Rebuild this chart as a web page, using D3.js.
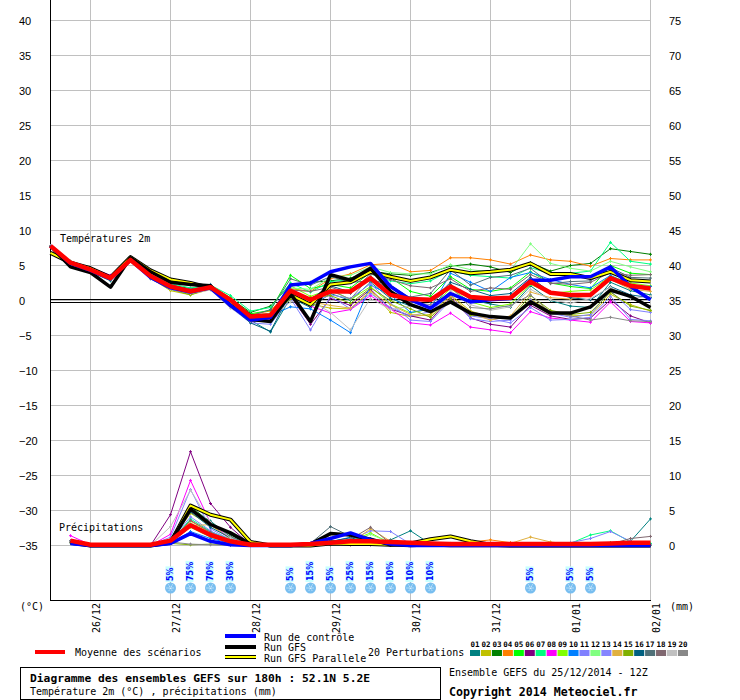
<!DOCTYPE html>
<html>
<head>
<meta charset="utf-8">
<script src="https://cdn.jsdelivr.net/npm/d3@7"></script>
<style>
  body { margin: 0; background: #fff; }
  svg { display: block; }
  .mono { font-family: "DejaVu Sans Mono", monospace; font-size: 10px; }
</style>
</head>
<body>
<div id="chart"></div>
<script>
// time steps (hours since 25/12/2014 12Z)
const hours = [0, 6, 12, 18, 24, 30, 36, 42, 48, 54, 60, 66, 72, 78, 84, 90, 96, 102, 108, 114, 120, 126, 132, 138, 144, 150, 156, 162, 168, 174, 180];
const precipHours = hours.slice(1);

const dateHours = [12, 36, 60, 84, 108, 132, 156, 180];
const dateLabels = ["26/12", "27/12", "28/12", "29/12", "30/12", "31/12", "01/01", "02/01"];
const tempTicks = [-35, -30, -25, -20, -15, -10, -5, 0, 5, 10, 15, 20, 25, 30, 35, 40];
const mmTicks = [0, 5, 10, 15, 20, 25, 30, 35, 40, 45, 50, 55, 60, 65, 70, 75];

const pertNames = ["01", "02", "03", "04", "05", "06", "07", "08", "09", "10", "11", "12", "13", "14", "15", "16", "17", "18", "19", "20"];
const pertColors = ["#008080", "#c0c000", "#008000", "#ff8000", "#00ff00", "#800080", "#00ff80", "#ff00ff", "#80ff00", "#0080ff",
  "#8080ff", "#80ff80", "#8585ff", "#e0b040", "#80b000", "#006080", "#507078", "#806870", "#c0c0c0", "#888888"];

// temperatures 2m (°C)
const tMean = [7.8, 5.4, 4.4, 3.2, 5.8, 3.5, 2.0, 1.3, 1.9, 0.1, -2.3, -2.1, 1.4, 0.1, 1.3, 1.3, 3.2, 0.8, 0.2, 0.1, 2.0, 0.5, 0.3, 0.4, 2.7, 1.1, 0.8, 0.8, 3.2, 2.1, 1.7];
const tControl = [7.8, 5.3, 4.3, 3.1, 5.8, 3.3, 1.8, 1.2, 1.8, -0.7, -2.8, -2.4, 2.2, 2.5, 4.1, 4.8, 5.3, 2.0, 0.1, -1.1, 1.0, -0.2, 0.1, 0.3, 2.9, 2.9, 3.4, 3.4, 4.8, 2.0, 0.1];
const tGfs = [7.8, 4.8, 4.0, 1.9, 6.1, 4.1, 2.6, 2.3, 2.1, -0.7, -2.7, -3.0, 1.0, -3.0, 3.7, 2.9, 4.6, 1.3, -0.6, -1.6, -0.2, -1.8, -2.3, -2.5, -0.2, -1.8, -1.8, -0.9, 1.5, 0.6, -1.0];
const tPara = [6.8, 5.4, 4.6, 3.3, 6.2, 4.3, 3.0, 2.5, 1.8, -0.2, -2.2, -2.2, 0.8, -0.6, 2.3, 2.6, 4.1, 3.4, 2.8, 3.3, 4.4, 3.9, 4.1, 4.4, 5.3, 3.8, 3.8, 3.2, 4.1, 2.9, 2.7];
const tPert = [
  [7.8, 5.2, 4.1, 2.8, 5.9, 3.1, 1.7, 0.9, 2.3, -0.2, -2.8, -4.5, 0.4, -1.0, 1.0, 0.0, 2.6, 0.3, -0.8, -1.4, 2.3, 0.1, -0.5, -1.0, 2.1, 0.0, -0.8, -1.0, 2.6, 1.4, 0.8],
  [7.8, 5.3, 4.3, 3.0, 5.6, 3.2, 1.4, 0.8, 1.6, -0.8, -2.6, -2.4, 0.7, -0.5, -1.1, -1.2, 1.4, -1.7, -2.3, -2.0, 0.8, -1.5, -2.4, -2.6, 0.2, -1.6, -2.2, -2.1, 0.9, -0.6, -1.5],
  [7.8, 5.4, 4.5, 3.2, 5.9, 3.6, 2.2, 1.7, 2.0, 0.3, -1.7, -0.8, 2.3, 2.6, 2.8, 3.2, 4.2, 3.8, 3.6, 4.0, 4.9, 5.2, 4.8, 4.0, 5.4, 4.2, 5.0, 5.3, 7.4, 7.0, 6.6],
  [7.8, 5.5, 4.5, 3.3, 5.7, 3.4, 1.9, 1.4, 1.7, 0.0, -2.0, -1.5, 1.7, 1.3, 3.1, 3.8, 5.1, 5.3, 4.1, 4.3, 6.1, 6.1, 5.8, 5.2, 6.5, 5.8, 5.6, 4.9, 6.0, 5.8, 5.8],
  [7.8, 5.3, 4.2, 3.1, 5.8, 3.4, 2.0, 1.2, 2.1, 0.4, -1.9, -1.4, 3.6, 1.7, 2.3, 1.8, 4.0, 3.3, 1.3, 0.6, 3.4, 1.6, 1.3, 1.8, 4.1, 2.5, 2.0, 1.7, 5.0, 3.9, 3.7],
  [7.8, 5.3, 4.4, 3.4, 5.7, 3.6, 2.1, 1.6, 1.8, -0.4, -2.7, -2.8, 0.6, -3.4, 0.3, -0.7, 1.6, -1.2, -2.2, -2.8, 0.4, -2.5, -3.4, -3.8, -0.7, -2.2, -2.7, -2.5, 0.1, -2.2, -3.2],
  [7.8, 5.6, 4.7, 3.5, 6.0, 3.7, 2.4, 1.8, 2.2, 0.7, -1.5, -1.0, 2.5, 1.2, 2.7, 3.0, 3.8, 2.8, 2.4, 2.8, 4.3, 3.6, 3.4, 3.2, 4.7, 3.8, 3.9, 4.2, 8.3, 5.6, 5.2],
  [7.8, 5.5, 4.7, 3.6, 5.9, 3.7, 2.0, 1.5, 2.2, -0.6, -3.1, -2.7, 0.8, -0.8, -1.8, -1.3, 0.7, -1.2, -3.2, -3.5, -1.8, -3.8, -4.2, -4.6, -1.6, -2.5, -2.8, -3.1, -0.2, -3.0, -3.2],
  [7.8, 5.4, 4.3, 3.3, 5.8, 3.3, 1.8, 1.1, 1.8, -0.1, -2.4, -1.9, 2.1, 0.6, 1.6, 0.1, 2.0, -0.5, -1.8, -1.2, 1.7, -0.2, -1.0, -0.5, 2.3, 1.0, 1.3, 1.5, 3.5, 2.5, 2.1],
  [7.8, 5.2, 4.2, 3.0, 5.7, 3.3, 1.6, 1.0, 1.9, -0.5, -2.5, -2.2, -0.9, -1.2, -2.8, -4.6, 2.2, 0.8, -1.7, -1.2, 3.9, 2.6, 1.3, 3.3, 4.0, 3.0, 2.3, 1.8, 3.6, 2.2, 2.0],
  [7.8, 5.4, 4.4, 3.1, 5.8, 3.2, 1.7, 1.2, 1.8, -1.0, -3.2, -3.4, 0.3, -4.2, 0.6, -1.2, 1.0, -1.0, -2.2, -1.6, 0.8, -2.6, -3.0, -2.8, 0.1, -1.8, -2.4, -2.0, 1.4, -1.3, -1.7],
  [7.8, 5.4, 4.5, 3.3, 5.9, 3.5, 2.1, 1.3, 2.0, 0.1, -2.1, -1.8, 1.8, 1.6, 3.3, 3.6, 4.8, 4.0, 3.8, 3.8, 5.1, 4.4, 4.1, 4.3, 8.1, 5.3, 4.6, 4.2, 5.6, 4.8, 4.1],
  [7.8, 5.3, 4.3, 3.2, 5.6, 3.4, 1.9, 1.4, 1.7, -0.7, -2.9, -2.6, 1.0, -0.4, 0.8, 0.3, 2.4, -0.4, -2.8, -3.0, 0.0, -2.2, -2.6, -3.2, -1.0, -2.8, -2.7, -2.4, 0.6, -2.7, -2.9],
  [7.8, 5.5, 4.6, 3.4, 5.9, 3.5, 1.8, 1.3, 2.0, 0.2, -2.2, -2.0, 1.2, -0.2, -0.7, -1.1, 1.3, -0.6, -2.0, -2.2, 0.6, -1.8, -2.8, -2.2, 1.2, 0.4, 0.2, 0.8, 3.0, 1.6, 1.3],
  [7.8, 5.4, 4.3, 3.0, 5.7, 3.2, 1.6, 0.8, 1.8, -0.3, -2.6, -2.3, 0.2, 0.4, 0.7, -0.4, 1.8, 0.0, -1.2, -2.4, 0.2, -2.1, -2.3, -2.5, 0.7, -1.4, -2.0, -1.7, 1.2, -0.8, -1.4],
  [7.8, 5.3, 4.2, 3.2, 5.9, 3.4, 1.9, 1.2, 2.2, -0.8, -3.2, -4.4, 1.1, 0.2, 2.1, 1.2, 3.0, 2.2, 0.3, -0.2, 2.6, 1.6, 0.7, 1.0, 3.3, 1.2, 0.4, 0.1, 2.0, 0.8, 0.4],
  [7.8, 5.6, 4.6, 3.4, 5.8, 3.7, 2.3, 1.5, 2.1, 0.0, -2.2, -1.3, 3.1, 2.2, 3.4, 2.6, 2.8, 1.2, 0.5, 1.0, 4.4, 2.2, 3.3, 3.6, 4.6, 2.4, 2.7, 2.8, 4.7, 3.3, 3.2],
  [7.8, 5.5, 4.5, 3.3, 5.9, 3.6, 2.0, 1.6, 2.0, -0.4, -2.7, -2.2, 1.5, 1.3, 1.9, 1.0, 3.8, 3.0, 2.1, 1.8, 3.1, 1.3, 1.8, 1.6, 3.7, 2.5, 2.3, 2.6, 4.0, 3.6, 3.7],
  [7.8, 5.3, 4.3, 3.1, 5.6, 3.4, 1.6, 1.0, 1.5, -1.1, -2.8, -2.5, -0.2, 0.0, -1.7, -4.2, 0.3, -1.3, -0.8, -1.4, 1.4, -0.6, -1.4, -0.9, 1.6, 0.1, -0.4, 0.3, 1.9, 0.3, 0.6],
  [7.8, 5.4, 4.3, 3.2, 5.8, 3.3, 1.8, 1.3, 2.0, -0.3, -3.0, -2.9, 1.2, -0.6, 1.4, 0.2, 3.5, 1.3, -0.2, -0.6, 2.0, -1.0, -1.2, -0.7, 0.8, -1.7, -2.2, -2.8, -2.4, -2.9, -3.0]
];

// precipitations (mm per 6h), from hour 6 to 180
const pMean = [0.7, 0.1, 0.1, 0.1, 0.1, 0.7, 2.9, 1.5, 0.6, 0.1, 0.1, 0.1, 0.2, 0.4, 0.6, 0.6, 0.5, 0.4, 0.3, 0.2, 0.2, 0.2, 0.2, 0.2, 0.2, 0.2, 0.2, 0.3, 0.4, 0.4];
const pControl = [0.3, 0, 0, 0, 0, 0.3, 1.7, 0.6, 0.1, 0, 0, 0, 0.3, 1.0, 1.8, 0.8, 0.2, 0, 0, 0, 0, 0, 0, 0, 0, 0, 0, 0, 0, 0];
const pGfs = [0.5, 0, 0, 0, 0, 0.5, 5.2, 3.0, 1.8, 0.2, 0, 0, 0.2, 1.7, 1.5, 0.9, 0.1, 0, 0.1, 0, 0, 0, 0, 0, 0, 0, 0, 0, 0, 0];
const pPara = [0.4, 0, 0, 0, 0, 0.4, 5.7, 4.4, 3.7, 0.5, 0, 0, 0, 0.3, 0.2, 0.2, 0.1, 0.3, 0.9, 1.3, 0.6, 0.1, 0, 0, 0, 0, 0, 0, 0, 0];
const pPert = [
  [0.6, 0, 0, 0, 0, 0.5, 5.0, 3.5, 1.2, 0, 0, 0, 0, 0.4, 0.3, 0.1, 0.8, 2.1, 0.2, 0, 0, 0, 0, 0, 0, 0, 0, 0.2, 0.6, 3.8],
  [0.5, 0, 0, 0, 0, 0.6, 4.6, 2.9, 1.0, 0, 0, 0, 0, 0.2, 0.2, 0.4, 0.1, 0, 0, 0.3, 0.6, 0.2, 0, 0, 0, 0, 0, 0, 0, 0],
  [0.7, 0, 0, 0, 0, 0.6, 5.6, 3.3, 1.5, 0.1, 0, 0, 0, 0.7, 0.6, 0.2, 0.1, 0, 0, 0.2, 0.3, 0.3, 0, 0, 0, 0, 0, 0, 0, 0],
  [0.5, 0, 0, 0, 0, 0.4, 3.5, 1.8, 0.8, 0, 0, 0, 0, 0.3, 0.5, 0.9, 0.3, 0, 0, 0, 0.5, 0.8, 0.4, 0.2, 0.1, 0, 0, 0, 0, 0],
  [0.6, 0, 0, 0, 0, 0.5, 3.0, 1.6, 0.5, 0, 0, 0, 0, 0.5, 0.4, 0.6, 0.2, 0, 0, 0, 0.2, 0.2, 0, 0, 0, 0, 0, 0.4, 0.5, 0.2],
  [0.7, 0, 0, 0, 0, 4.4, 13.4, 6.0, 2.6, 0.1, 0, 0, 0, 0.2, 0.3, 0.4, 0.1, 0, 0, 0, 0, 0, 0, 0, 0, 0, 0, 0, 0, 0],
  [0.5, 0, 0, 0, 0, 0.5, 3.8, 2.0, 0.9, 0, 0, 0, 0, 0.3, 0.5, 0.7, 0.2, 0, 0, 0, 0.1, 0.1, 0, 0, 0, 0.3, 1.5, 2.1, 0.5, 0.3],
  [1.4, 0.1, 0, 0, 0, 1.6, 9.3, 3.2, 1.0, 0, 0, 0, 0, 0.2, 0.1, 0.1, 0, 0, 0, 0, 0, 0, 0, 0, 0, 0, 0, 0, 0, 0],
  [0.6, 0, 0, 0, 0, 0.5, 2.6, 1.2, 0.4, 0, 0, 0, 0, 0.2, 0.6, 1.8, 0.3, 0, 0, 0, 0, 0, 0, 0, 0, 0, 0, 0, 0, 0],
  [0.4, 0, 0, 0, 0, 0.3, 2.0, 1.0, 0.3, 0, 0, 0, 0, 0.5, 1.2, 1.0, 0.2, 0, 0, 0, 0, 0, 0, 0, 0, 0, 0, 0, 0, 0],
  [0.5, 0, 0, 0, 0, 0.7, 4.1, 2.1, 0.6, 0, 0, 0, 0, 0.3, 0.8, 2.1, 2.0, 0.2, 0, 0, 0, 0, 0, 0, 0, 0.4, 1.0, 2.0, 0.6, 0.1],
  [0.6, 0, 0, 0, 0, 0.5, 3.2, 1.8, 0.5, 0, 0, 0, 0, 0.4, 0.5, 1.6, 0.4, 0, 0, 0, 0, 0, 0, 0, 0, 0, 0, 0, 0, 0],
  [0.6, 0, 0, 0, 0, 1.2, 8.0, 2.4, 0.8, 0, 0, 0, 0, 0.2, 0.5, 0.6, 0.2, 0, 0, 0, 0, 0, 0, 0, 0, 0, 0, 0, 0, 0],
  [0.5, 0, 0, 0, 0, 0.4, 2.8, 3.0, 0.9, 0, 0, 0, 0, 0.2, 0.3, 2.4, 0.6, 0, 0, 0, 0, 0, 0.3, 1.2, 0.5, 0.2, 0, 0, 0, 0],
  [0.4, 0, 0, 0, 0, 0.3, 0.1, 0.2, 0.1, 0, 0, 0, 0, 0.1, 0.1, 0.2, 0, 0, 0, 0, 0, 0, 0, 0, 0, 0, 0, 0, 0, 0],
  [0.6, 0, 0, 0, 0, 0.6, 4.8, 2.6, 1.1, 0, 0, 0, 0, 0.6, 1.1, 0.4, 0.1, 0, 0, 0, 0, 0, 0, 0, 0, 0, 0, 0, 0, 0],
  [0.5, 0, 0, 0, 0, 0.9, 5.3, 3.1, 1.3, 0, 0, 0, 0.3, 2.7, 1.3, 0.5, 0.1, 0, 0, 0, 0, 0, 0, 0, 0, 0, 0, 0, 0, 0],
  [0.5, 0, 0, 0, 0, 0.6, 3.6, 1.9, 0.6, 0, 0, 0, 0, 0.4, 0.9, 2.6, 0.3, 0, 0, 0, 0, 0, 0, 0, 0, 0, 0, 0.2, 1.0, 1.3],
  [0.6, 0, 0, 0, 0, 2.7, 7.9, 3.3, 1.1, 0, 0, 0, 0, 0.2, 0.3, 0.4, 0.1, 0, 0, 0, 0, 0, 0, 0, 0, 0, 0, 0, 0, 0],
  [0.5, 0, 0, 0, 0, 0.5, 0.2, 0.1, 0, 0, 0, 0, 0, 0.1, 0.1, 0.1, 0, 0, 0, 0, 0, 0, 0, 0, 0, 0, 0, 0, 0, 0]
];

// snow probability (%) per time step
const snowHours = [36, 42, 48, 54, 72, 78, 84, 90, 96, 102, 108, 114, 144, 156, 162];
const snowPct = [5, 75, 70, 30, 5, 15, 5, 25, 15, 10, 10, 10, 5, 5, 5];

const width = 740, height = 700;

const svg = d3.select("#chart").append("svg")
  .attr("width", width)
  .attr("height", height);

const x = d3.scaleLinear().domain([0, 180]).range([50.5, 650.5]);
const yT = d3.scaleLinear().domain([-35, 40]).range([545.5, 20.5]);
const yP = d3.scaleLinear().domain([0, 75]).range([545.5, 20.5]);

// grid
svg.append("g")
  .selectAll("line")
  .data(tempTicks)
  .join("line")
  .attr("x1", 50).attr("x2", 650)
  .attr("y1", (d) => yT(d)).attr("y2", (d) => yT(d))
  .attr("stroke", "#c0c0c0");

svg.append("g")
  .selectAll("line")
  .data(dateHours)
  .join("line")
  .attr("x1", (d) => x(d)).attr("x2", (d) => x(d))
  .attr("y1", 0).attr("y2", 600)
  .attr("stroke", "#c0c0c0");

// 0°C double line
[-1, 2].forEach((off) => {
  svg.append("line")
    .attr("x1", 50).attr("x2", 650)
    .attr("y1", yT(0) + off).attr("y2", yT(0) + off)
    .attr("stroke", "black");
});

// frame
svg.append("line").attr("x1", 50.5).attr("x2", 50.5).attr("y1", 0).attr("y2", 601).attr("stroke", "black");
svg.append("line").attr("x1", 50).attr("x2", 651).attr("y1", 600.5).attr("y2", 600.5).attr("stroke", "black");

// axes labels
const leftAxis = svg.append("g")
  .attr("transform", "translate(19,0)")
  .call(d3.axisLeft(yT).tickValues(tempTicks).tickSize(0).tickPadding(0));
leftAxis.select(".domain").remove();
leftAxis.selectAll("text")
  .attr("text-anchor", "start")
  .attr("x", 0)
  .style("font-family", "'Liberation Sans', Arial, sans-serif")
  .style("font-size", "11px")
  .attr("fill", "black");

const rightAxis = svg.append("g")
  .attr("transform", "translate(669,0)")
  .call(d3.axisRight(yP).tickValues(mmTicks).tickSize(0).tickPadding(0));
rightAxis.select(".domain").remove();
rightAxis.selectAll("text")
  .attr("x", 0)
  .style("font-family", "'Liberation Sans', Arial, sans-serif")
  .style("font-size", "11px")
  .attr("fill", "black");

svg.selectAll(".datelbl")
  .data(dateHours)
  .join("text")
  .attr("class", "datelbl mono")
  .attr("transform", (d) => `translate(${x(d) + 9},603) rotate(-90)`)
  .attr("text-anchor", "end")
  .text((d, i) => dateLabels[i]);

svg.append("text").attr("class", "mono").attr("x", 20).attr("y", 610).text("(°C)");
svg.append("text").attr("class", "mono").attr("x", 670).attr("y", 610).text("(mm)");
svg.append("text").attr("class", "mono").attr("x", 60).attr("y", 242).text("Températures 2m");
svg.append("text").attr("class", "mono").attr("x", 59).attr("y", 531).text("Précipitations");

// series
const lineT = d3.line().x((d, i) => x(hours[i])).y((d) => yT(d));
const lineP = d3.line().x((d, i) => x(precipHours[i])).y((d) => yP(d));
const cross = "M-1.5,0H1.5M0,-1.5V1.5";

const pertG = svg.append("g");
pertNames.forEach((name, k) => {
  const c = pertColors[k];
  pertG.append("path").attr("d", lineT(tPert[k])).attr("fill", "none").attr("stroke", c).attr("stroke-width", 1);
  pertG.append("path").attr("d", lineP(pPert[k])).attr("fill", "none").attr("stroke", c).attr("stroke-width", 1);
  pertG.append("g").selectAll("path")
    .data(tPert[k])
    .join("path")
    .attr("transform", (d, i) => `translate(${x(hours[i])},${yT(d)})`)
    .attr("d", cross).attr("stroke", c).attr("fill", "none");
  pertG.append("g").selectAll("path")
    .data(pPert[k])
    .join("path")
    .attr("transform", (d, i) => `translate(${x(precipHours[i])},${yP(d)})`)
    .attr("d", cross).attr("stroke", c).attr("fill", "none");
});

function drawRun(tVals, pVals, color, w) {
  svg.append("path").attr("d", lineT(tVals)).attr("fill", "none").attr("stroke", color).attr("stroke-width", w).attr("stroke-linejoin", "round");
  svg.append("path").attr("d", lineP(pVals)).attr("fill", "none").attr("stroke", color).attr("stroke-width", w).attr("stroke-linejoin", "round");
}

drawRun(tPara, pPara, "black", 4);
drawRun(tPara, pPara, "#ffff00", 2);
drawRun(tGfs, pGfs, "black", 3.5);
drawRun(tControl, pControl, "#0000ff", 3.5);
drawRun(tMean, pMean, "#ff0000", 4.5);

// snow icons
const snowG = svg.append("g");
snowHours.forEach((h, i) => {
  const cx = x(h);
  const g = snowG.append("g");
  const txt = g.append("text")
    .attr("transform", `translate(${cx + 2},581) rotate(-90)`)
    .style("font-family", "'DejaVu Sans', sans-serif")
    .style("font-size", "8px")
    .style("font-weight", "bold")
    .attr("fill", "#0000ff")
    .text(snowPct[i] + "%");
  const len = txt.node().getComputedTextLength();
  g.insert("rect", "text")
    .attr("x", cx - 5).attr("y", 581 - len - 1)
    .attr("width", 8).attr("height", len + 2)
    .attr("fill", "#c8ffff");
  g.append("circle").attr("cx", cx).attr("cy", 588).attr("r", 5.5).attr("fill", "#78bef0");
  [0, 60, 120].forEach((a) => {
    const r = (a * Math.PI) / 180;
    g.append("line")
      .attr("x1", cx - 4 * Math.cos(r)).attr("y1", 588 - 4 * Math.sin(r))
      .attr("x2", cx + 4 * Math.cos(r)).attr("y2", 588 + 4 * Math.sin(r))
      .attr("stroke", "#e8f6ff").attr("stroke-width", 1).attr("stroke-dasharray", "1,1");
  });
});

// legend
svg.append("line").attr("x1", 35).attr("x2", 65).attr("y1", 652).attr("y2", 652).attr("stroke", "#ff0000").attr("stroke-width", 4);
svg.append("text").attr("class", "mono").attr("x", 75).attr("y", 656).text("Moyenne des scénarios");

svg.append("line").attr("x1", 225).attr("x2", 256).attr("y1", 636).attr("y2", 636).attr("stroke", "#0000ff").attr("stroke-width", 4);
svg.append("text").attr("class", "mono").attr("x", 264).attr("y", 641).text("Run de contrôle");
svg.append("line").attr("x1", 225).attr("x2", 256).attr("y1", 647).attr("y2", 647).attr("stroke", "black").attr("stroke-width", 4);
svg.append("text").attr("class", "mono").attr("x", 264).attr("y", 651).text("Run GFS");
svg.append("line").attr("x1", 225).attr("x2", 256).attr("y1", 657).attr("y2", 657).attr("stroke", "black").attr("stroke-width", 4);
svg.append("line").attr("x1", 225).attr("x2", 256).attr("y1", 657).attr("y2", 657).attr("stroke", "#ffff00").attr("stroke-width", 2);
svg.append("text").attr("class", "mono").attr("x", 264).attr("y", 662).text("Run GFS Parallele");
svg.append("text").attr("class", "mono").attr("x", 368).attr("y", 656).text("20 Perturbations");

const sw = d3.scaleBand().domain(pertNames).range([470, 688]).paddingInner(0.08);
svg.append("g").selectAll("rect")
  .data(pertNames)
  .join("rect")
  .attr("x", (d) => sw(d)).attr("y", 650)
  .attr("width", sw.bandwidth()).attr("height", 6)
  .attr("fill", (d, i) => pertColors[i]);
svg.append("g").selectAll("text")
  .data(pertNames)
  .join("text")
  .attr("x", (d) => sw(d) + sw.bandwidth() / 2).attr("y", 647)
  .attr("text-anchor", "middle")
  .style("font-family", "'DejaVu Sans Mono', monospace")
  .style("font-size", "7.5px")
  .style("font-weight", "bold")
  .text((d) => d);

// title box
svg.append("rect").attr("x", 20.5).attr("y", 667.5).attr("width", 420).attr("height", 32)
  .attr("fill", "none").attr("stroke", "black");
svg.append("text").attr("class", "mono").attr("x", 30).attr("y", 682)
  .style("font-size", "11.3px").style("font-weight", "bold")
  .text("Diagramme des ensembles GEFS sur 180h : 52.1N 5.2E");
svg.append("text").attr("class", "mono").attr("x", 30).attr("y", 695)
  .text("Température 2m (°C) , précipitations (mm)");
svg.append("text").attr("class", "mono").attr("x", 449).attr("y", 676)
  .text("Ensemble GEFS du 25/12/2014 - 12Z");
svg.append("text").attr("class", "mono").attr("x", 449).attr("y", 696)
  .style("font-size", "11.6px").style("font-weight", "bold")
  .text("Copyright 2014 Meteociel.fr");
</script>
</body>
</html>
